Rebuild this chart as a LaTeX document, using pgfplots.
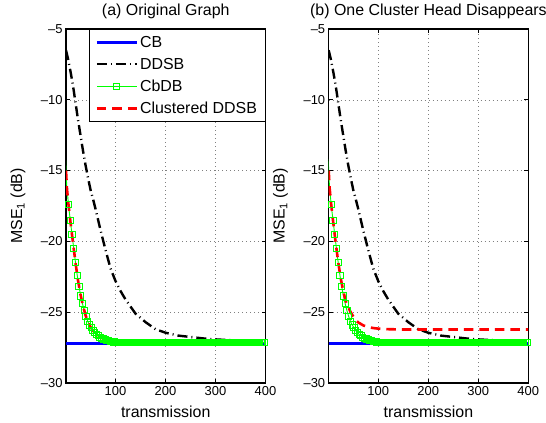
\documentclass[border=0pt]{standalone}
\usepackage{fontspec}
\setmainfont{Liberation Sans}
\usepackage{pgfplots}
\usepackage{pgfplotstable}
\pgfplotsset{compat=1.18}

\definecolor{mblue}{rgb}{0,0,1}
\definecolor{mgreen}{rgb}{0,1,0}
\definecolor{mred}{rgb}{1,0,0}

% CB: constant level
\pgfplotstableread[row sep=\\]{
x y\\ 1 -27.2\\ 400 -27.2\\
}\cb

% DDSB (same in both panels)
\pgfplotstableread[row sep=\\]{
x y\\
1 -6.5\\ 5 -7.1\\ 10 -8.0\\ 15 -9.0\\ 20 -10.2\\ 25 -11.4\\ 30 -12.5\\ 35 -13.6\\
40 -14.6\\ 45 -15.5\\ 50 -16.35\\ 55 -17.0\\ 60 -17.7\\ 70 -19.2\\ 80 -20.6\\
90 -21.9\\ 100 -22.8\\ 110 -23.5\\ 120 -24.1\\ 140 -25.1\\ 160 -25.7\\ 180 -26.2\\
200 -26.45\\ 225 -26.65\\ 250 -26.75\\ 275 -26.85\\ 300 -26.92\\ 325 -26.97\\
350 -27.0\\ 375 -27.03\\ 400 -27.05\\
}\ddsb

% CbDB (same in both panels)
\pgfplotstableread[row sep=\\]{
x y\\
0 -14.2\\ 2.5 -16.1\\ 6 -17.4\\ 9.5 -18.5\\ 13 -19.5\\ 16.5 -20.5\\ 20 -21.5\\
23.5 -22.4\\ 27 -23.2\\ 30.5 -23.85\\ 34 -24.4\\ 37.5 -24.9\\ 41 -25.3\\
44.5 -25.65\\ 48 -25.9\\ 51.5 -26.1\\ 55 -26.3\\ 58.5 -26.45\\ 62 -26.57\\
65.5 -26.67\\ 69 -26.76\\ 72.5 -26.83\\ 76 -26.89\\ 79.5 -26.94\\ 83 -26.98\\
86.5 -27.02\\ 90 -27.05\\ 93.5 -27.08\\ 97 -27.10\\ 100.5 -27.12\\ 104 -27.13\\
107.5 -27.14\\ 111 -27.15\\ 114.5 -27.15\\ 118 -27.15\\ 121.5 -27.15\\ 125 -27.15\\
128.5 -27.15\\ 132 -27.15\\ 135.5 -27.15\\ 139 -27.15\\ 142.5 -27.15\\ 146 -27.15\\
149.5 -27.15\\ 153 -27.15\\ 156.5 -27.15\\ 160 -27.15\\ 163.5 -27.15\\ 167 -27.15\\
170.5 -27.15\\ 174 -27.15\\ 177.5 -27.15\\ 181 -27.15\\ 184.5 -27.15\\ 188 -27.15\\
191.5 -27.15\\ 195 -27.15\\ 198.5 -27.15\\ 202 -27.15\\ 205.5 -27.15\\ 209 -27.15\\
212.5 -27.15\\ 216 -27.15\\ 219.5 -27.15\\ 223 -27.15\\ 226.5 -27.15\\ 230 -27.15\\
233.5 -27.15\\ 237 -27.15\\ 240.5 -27.15\\ 244 -27.15\\ 247.5 -27.15\\ 251 -27.15\\
254.5 -27.15\\ 258 -27.15\\ 261.5 -27.15\\ 265 -27.15\\ 268.5 -27.15\\ 272 -27.15\\
275.5 -27.15\\ 279 -27.15\\ 282.5 -27.15\\ 286 -27.15\\ 289.5 -27.15\\ 293 -27.15\\
296.5 -27.15\\ 300 -27.15\\ 303.5 -27.15\\ 307 -27.15\\ 310.5 -27.15\\ 314 -27.15\\
317.5 -27.15\\ 321 -27.15\\ 324.5 -27.15\\ 328 -27.15\\ 331.5 -27.15\\ 335 -27.15\\
338.5 -27.15\\ 342 -27.15\\ 345.5 -27.15\\ 349 -27.15\\ 352.5 -27.15\\ 356 -27.15\\
359.5 -27.15\\ 363 -27.15\\ 366.5 -27.15\\ 370 -27.15\\ 373.5 -27.15\\ 377 -27.15\\
380.5 -27.15\\ 384 -27.15\\ 387.5 -27.15\\ 391 -27.15\\ 394.5 -27.15\\ 398 -27.15\\
}\cbdb

% Clustered DDSB, original graph
\pgfplotstableread[row sep=\\]{
x y\\
1 -15.0\\ 3 -16.3\\ 6 -17.4\\ 10 -18.65\\ 15 -20.1\\ 20 -21.5\\ 25 -22.75\\
30 -23.75\\ 35 -24.55\\ 40 -25.2\\ 45 -25.7\\ 50 -26.05\\ 55 -26.3\\ 60 -26.5\\
70 -26.78\\ 80 -26.94\\ 90 -27.03\\ 100 -27.08\\ 120 -27.1\\ 400 -27.1\\
}\cla

% Clustered DDSB, one cluster head disappears
\pgfplotstableread[row sep=\\]{
x y\\
1 -15.0\\ 3 -16.3\\ 6 -17.4\\ 10 -18.65\\ 15 -20.1\\ 20 -21.45\\ 25 -22.6\\
30 -23.5\\ 35 -24.2\\ 40 -24.65\\ 45 -25.0\\ 50 -25.3\\ 55 -25.55\\ 60 -25.72\\
70 -25.93\\ 80 -26.05\\ 90 -26.12\\ 100 -26.16\\ 120 -26.2\\ 150 -26.22\\ 400 -26.22\\
}\clb

\pgfplotsset{
  panel/.style={
    scale only axis, width=199.5bp, height=354bp,
    xmin=1, xmax=400, ymin=-30, ymax=-5,
    xtick={100,200,300,400},
    ytick={-30,-25,-20,-15,-10,-5},
    yticklabels={--30,--25,--20,--15,--10,--5},
    grid=major,
    major grid style={draw=black!50, line width=0.5bp, dash pattern=on 1bp off 3bp},
    tick align=inside, major tick length=4bp,
    tick style={black, line width=0.6bp},
    axis line style={black, line width=1.1bp},
    ticklabel style={font=\fontsize{13}{15}\selectfont},
    /pgf/number format/assume math mode=true,
    xlabel={transmission},
    ylabel={MSE\textsubscript{1} (dB)},
    label style={font=\fontsize{16}{18}\selectfont},
    xlabel style={at={(axis description cs:0.5,-0.082)}, anchor=center},
    ylabel style={at={(axis description cs:-0.241,0.5)}, anchor=center},
    title style={at={(axis description cs:0.5,1.034)}, anchor=center,
      font=\fontsize{16}{18}\selectfont},
    legend image code/.code={\draw[#1, mark repeat=2, mark phase=2]
      plot coordinates {(0bp,0bp) (20bp,0bp) (40bp,0bp)};},
  },
  cbline/.style={draw=mblue, line width=2.6bp, no marks},
  ddsbline/.style={draw=black, line width=2.4bp, no marks,
    dash pattern=on 10bp off 4bp on 1bp off 4bp},
  cbdbline/.style={draw=mgreen, line width=0.9bp, mark=square, mark size=3.1bp,
    mark options={solid, draw=mgreen, line width=0.9bp}, mark repeat=1, mark phase=2},
  clline/.style={draw=mred, line width=2.6bp, no marks, dash pattern=on 9.5bp off 6bp},
}

\begin{document}
\begin{tikzpicture}
\path[use as bounding box] (0,0) rectangle (546bp,423bp);

\begin{axis}[panel, at={(66bp,40bp)}, anchor=south west,
  title={(a) Original Graph},
  legend cell align=left,
  legend style={at={(1,1)}, anchor=north east, draw=black, line width=1bp,
    fill=white, inner xsep=6bp, inner ysep=4.5bp, row sep=5.3bp,
    font=\fontsize{16}{19}\selectfont, nodes={inner sep=2bp}},
]
\addplot[cbline] table {\cb};
\addplot[ddsbline] table {\ddsb};
\addplot[cbdbline] table {\cbdb};
\addplot[clline] table {\cla};
\legend{CB, DDSB, CbDB, Clustered DDSB}
\end{axis}

\begin{axis}[panel, at={(328.7bp,40bp)}, anchor=south west,
  title={(b) One Cluster Head Disappears},
]
\addplot[cbline] table {\cb};
\addplot[ddsbline] table {\ddsb};
\addplot[cbdbline] table {\cbdb};
\addplot[clline] table {\clb};
\end{axis}
\end{tikzpicture}
\end{document}
